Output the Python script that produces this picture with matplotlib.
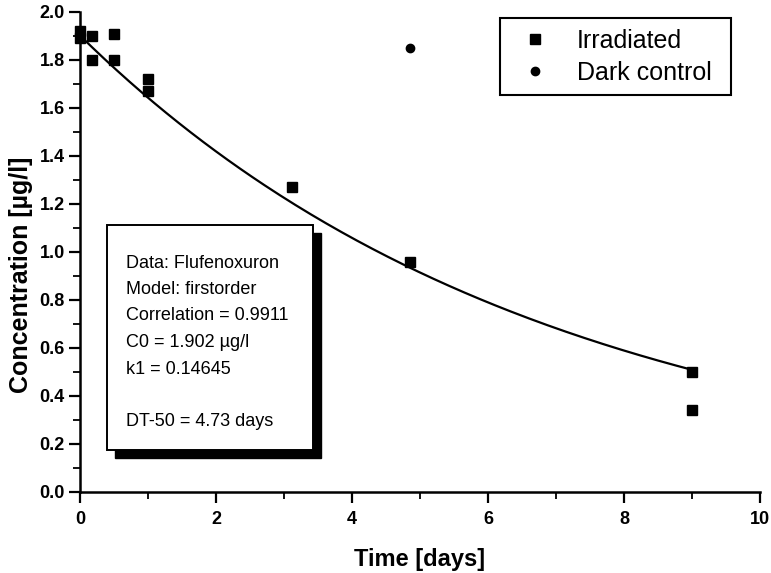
import numpy as np
import matplotlib
matplotlib.use("Agg")
import matplotlib.pyplot as plt
from matplotlib.patches import Rectangle

plt.rcParams['font.family'] = ['Liberation Sans', 'DejaVu Sans']

# Measured concentrations
irr_time = [0.0, 0.0, 0.17, 0.17, 0.5, 0.5, 1.0, 1.0, 3.12, 4.85, 9.0, 9.0]
irr_conc = [1.92, 1.89, 1.90, 1.80, 1.91, 1.80, 1.72, 1.67, 1.27, 0.96, 0.50, 0.34]
dark_time = [4.85]
dark_conc = [1.85]

# First-order fit parameters
C0 = 1.902
k1 = 0.14645
fit_t = np.linspace(0, 9.0, 200)
fit_c = C0 * np.exp(-k1 * fit_t)

W, H = 771, 573
fig = plt.figure(figsize=(W / 100, H / 100), dpi=100)
ax = fig.add_axes([80 / W, 1 - 492 / H, 680 / W, 480 / H])

ax.plot(fit_t, fit_c, color='black', lw=1.6, zorder=2)
ax.plot(irr_time, irr_conc, 's', color='black', ms=7, zorder=3, label='Irradiated',
        clip_on=False)
ax.plot(dark_time, dark_conc, 'o', color='black', ms=6, zorder=3, label='Dark control')

ax.set_xlim(0, 10)
ax.set_ylim(0, 2.0)
ax.set_xticks(np.arange(0, 11, 2))
ax.set_xticks(np.arange(0, 11, 1), minor=True)
ax.set_yticks(np.arange(0, 2.01, 0.2))
ax.set_yticks(np.arange(0, 2.01, 0.1), minor=True)
ax.set_yticklabels([f"{v:.1f}" for v in np.arange(0, 2.01, 0.2)])

for s in ['top', 'right']:
    ax.spines[s].set_visible(False)
for s in ['left', 'bottom']:
    ax.spines[s].set_linewidth(1.8)
ax.tick_params(which='major', direction='out', length=8, width=1.6,
               labelsize=13)
ax.tick_params(which='minor', direction='out', length=5, width=1.3)
ax.tick_params(axis='x', which='major', pad=6)
ax.tick_params(axis='y', which='major', pad=3)
for lab in ax.get_xticklabels() + ax.get_yticklabels():
    lab.set_fontweight('bold')

ax.set_xlabel('Time [days]', fontsize=17, fontweight='bold', labelpad=14)
ax.set_ylabel('Concentration [µg/l]', fontsize=18, fontweight='bold')
ax.yaxis.set_label_coords(-0.069, 0.452)

# Legend entries, framed by a separate rectangle
leg = ax.legend(loc='upper left', bbox_to_anchor=(515 / W, 1 - 29 / H),
                bbox_transform=fig.transFigure, fontsize=18, frameon=False,
                handletextpad=0.88, borderpad=0, labelspacing=0.3,
                handlelength=1.6, borderaxespad=0)
fig.patches.append(Rectangle((500 / W, 1 - 95 / H), 231 / W, 77 / H,
                             transform=fig.transFigure, facecolor='none',
                             edgecolor='black', lw=1.5, zorder=5))

# Fit summary box with drop shadow
bx0, by0, bw, bh = 107, 225, 206, 225
fig.patches.append(Rectangle(((bx0 + 8) / W, (H - by0 - bh - 8) / H),
                             bw / W, bh / H, transform=fig.transFigure,
                             facecolor='black', edgecolor='black', zorder=5))
fig.patches.append(Rectangle((bx0 / W, (H - by0 - bh) / H),
                             bw / W, bh / H, transform=fig.transFigure,
                             facecolor='white', edgecolor='black', lw=1.4,
                             zorder=6))

info_lines = ["Data: Flufenoxuron", "Model: firstorder", "Correlation = 0.9911",
              "C0 = 1.902 µg/l", "k1 = 0.14645", "", "DT-50 = 4.73 days"]
ty = 263
for line in info_lines:
    fig.text(126 / W, 1 - ty / H, line, fontsize=13, va='center', ha='left',
             zorder=7)
    ty += 26.5

fig.savefig('out.png', dpi=100)
